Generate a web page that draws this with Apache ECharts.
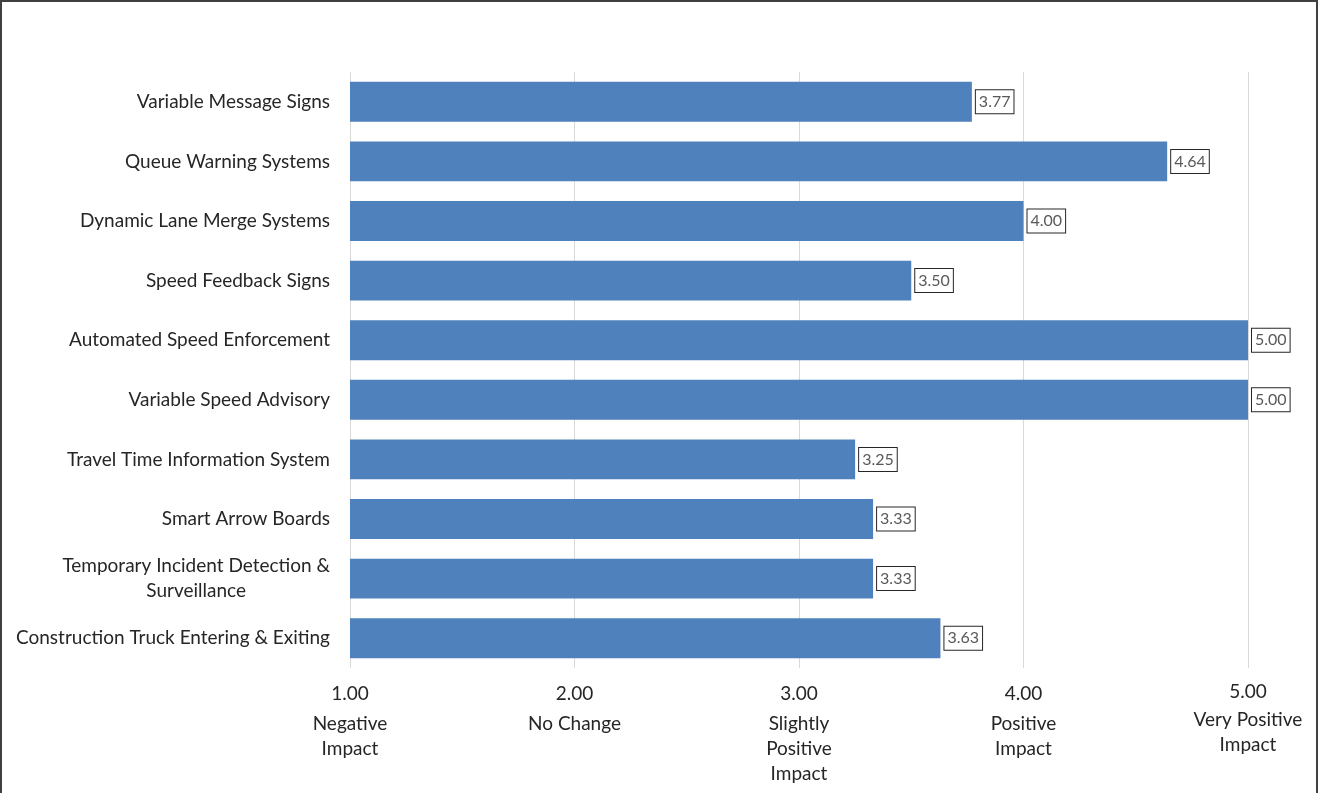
<!DOCTYPE html>
<html>
<head>
<meta charset="utf-8">
<script src="https://cdn.jsdelivr.net/npm/echarts@6/dist/echarts.min.js"></script>
<style>
html,body{margin:0;padding:0;background:#fff;}
#chart{width:1319px;height:793px;}
</style>
</head>
<body>
<div id="chart"></div>
<script>
const categories = [
  "Variable Message Signs",
  "Queue Warning Systems",
  "Dynamic Lane Merge Systems",
  "Speed Feedback Signs",
  "Automated Speed Enforcement",
  "Variable Speed Advisory",
  "Travel Time Information System",
  "Smart Arrow Boards",
  "Temporary Incident Detection & Surveillance",
  "Construction Truck Entering & Exiting"
];
const values = [3.77, 4.64, 4.00, 3.50, 5.00, 5.00, 3.25, 3.33, 3.33, 3.63];
const tickLabels = {
  1: "Negative\nImpact",
  2: "No Change",
  3: "Slightly\nPositive\nImpact",
  4: "Positive\nImpact",
  5: "Very Positive\nImpact"
};

const FONT = "Lato, 'Open Sans', sans-serif";
const FS = 19;
const chart = echarts.init(document.getElementById('chart'));
chart.setOption({
  animation: false,
  backgroundColor: '#fff',
  graphic: [{
    type: 'rect',
    shape: { x: 1, y: 1, width: 1316, height: 820 },
    style: { fill: 'none', stroke: '#404040', lineWidth: 2 },
    silent: true
  }],
  grid: { left: 350, right: 71, top: 72, bottom: 125, containLabel: false },
  xAxis: {
    type: 'value',
    min: 1, max: 5, interval: 1,
    axisLine: { show: false },
    axisTick: { show: false },
    splitLine: { show: true, lineStyle: { color: '#d9d9d9', width: 1 } },
    axisLabel: {
      margin: 9,
      color: '#262626',
      fontFamily: FONT,
      fontSize: FS,
      formatter: function (v) {
        const key = Math.round(v);
        const desc = (tickLabels[key] || '').split('\n').map(s => '{d|' + s + '}').join('\n');
        return (key === 5 ? '{v5|' : '{v|') + v.toFixed(2) + '}\n' + desc;
      },
      rich: {
        v: { fontFamily: FONT, fontSize: FS, color: '#262626', lineHeight: 34 },
        v5: { fontFamily: FONT, fontSize: FS, color: '#262626', lineHeight: 30 },
        d: { fontFamily: FONT, fontSize: FS, color: '#262626', lineHeight: 25 }
      }
    }
  },
  yAxis: {
    type: 'category',
    data: categories,
    inverse: true,
    axisLine: { show: false },
    axisTick: { show: false },
    splitLine: { show: false },
    axisLabel: {
      margin: 20,
      color: '#262626',
      fontFamily: FONT,
      fontSize: FS,
      formatter: function (v) {
        if (v === "Temporary Incident Detection & Surveillance") {
          return '{c|Temporary Incident Detection &}\n{c|Surveillance}';
        }
        return v;
      },
      rich: {
        c: { fontFamily: FONT, fontSize: FS, color: '#262626', lineHeight: 25, align: 'center' }
      }
    }
  },
  series: [{
    type: 'bar',
    data: values,
    barCategoryGap: '33%',
    itemStyle: { color: '#4F81BD' },
    label: {
      show: true,
      position: 'right',
      distance: 4,
      formatter: p => p.value.toFixed(2),
      fontFamily: FONT,
      fontSize: 16,
      color: '#595959',
      backgroundColor: '#fff',
      borderColor: '#262626',
      borderWidth: 1,
      padding: [4, 3, 3, 3]
    }
  }]
});
</script>
</body>
</html>
